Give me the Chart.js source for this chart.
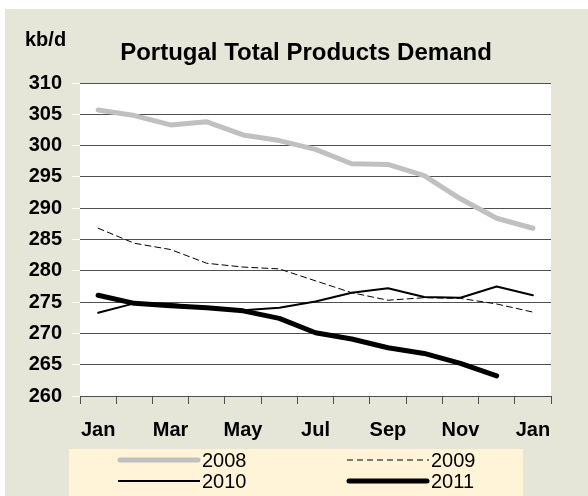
<!DOCTYPE html>
<html>
<head>
<meta charset="utf-8">
<script src="https://cdn.jsdelivr.net/npm/chart.js@4.4.1/dist/chart.umd.min.js"></script>
<style>
  html, body { margin: 0; padding: 0; background: #fff; }
  #wrap { position: absolute; left: 5px; top: 9px; width: 583px; height: 487px; background: #e6e6d8; }
</style>
</head>
<body>
<div id="wrap"><canvas id="chart"></canvas></div>
<script>
// months, Jan to Jan of next year
const months = ['Jan', 'Feb', 'Mar', 'Apr', 'May', 'Jun', 'Jul', 'Aug', 'Sep', 'Oct', 'Nov', 'Dec', 'Jan'];

const y2008 = [305.7, 304.8, 303.3, 303.8, 301.7, 300.8, 299.4, 297.1, 297.0, 295.2, 291.5, 288.4, 286.8];
const y2009 = [286.8, 284.4, 283.4, 281.2, 280.6, 280.3, 278.4, 276.5, 275.3, 275.7, 275.6, 274.7, 273.4];
const y2010 = [273.3, 274.8, 274.7, 274.1, 273.7, 274.1, 275.1, 276.5, 277.2, 275.8, 275.7, 277.5, 276.1];
const y2011 = [276.1, 274.8, 274.4, 274.1, 273.6, 272.4, 270.1, 269.1, 267.7, 266.8, 265.2, 263.2, null];

const titleText = 'Portugal Total Products Demand';
const unitText = 'kb/d';

const font = 'Liberation Sans, Arial, sans-serif';

const plotBg = {
  id: 'plotBg',
  beforeDraw(chart) {
    const a = chart.chartArea;
    const ctx = chart.ctx;
    ctx.save();
    ctx.fillStyle = '#ffffff';
    ctx.fillRect(a.left, a.top, a.right - a.left, a.bottom - a.top);
    ctx.restore();
  }
};

const texts = {
  id: 'texts',
  afterDraw(chart) {
    const ctx = chart.ctx;
    ctx.save();
    ctx.fillStyle = '#000';
    ctx.textBaseline = 'middle';
    ctx.font = 'bold 24px ' + font;
    ctx.textAlign = 'center';
    ctx.fillText(titleText, 301, 44);
    ctx.font = 'bold 20px ' + font;
    ctx.textAlign = 'left';
    ctx.fillText(unitText, 20, 31);

    // legend box, 2 x 2
    ctx.fillStyle = '#fff4d8';
    ctx.fillRect(64, 440, 454, 47);
    const pos = [[113, 451], [342, 451], [113, 472], [342, 472]];
    chart.data.datasets.forEach((ds, i) => {
      const [x, y] = pos[i];
      ctx.beginPath();
      ctx.strokeStyle = ds.borderColor;
      ctx.lineWidth = ds.borderWidth;
      ctx.setLineDash(ds.borderDash || []);
      ctx.lineCap = ds.borderWidth > 2 ? 'round' : 'butt';
      ctx.moveTo(x + (ds.borderWidth > 2 ? 2 : 0), y);
      ctx.lineTo(x + 82 - (ds.borderWidth > 2 ? 2 : 0), y);
      ctx.stroke();
      ctx.setLineDash([]);
      ctx.fillStyle = '#000';
      ctx.font = '20px ' + font;
      ctx.fillText(ds.label, x + 84, y + 1);
    });
    ctx.restore();
  }
};

const ctx = document.getElementById('chart');
new Chart(ctx, {
  type: 'line',
  data: {
    labels: months,
    datasets: [
      { label: '2008', data: y2008, borderColor: '#c0c0c0', borderWidth: 5 },
      { label: '2009', data: y2009, borderColor: '#000000', borderWidth: 1, borderDash: [6, 4] },
      { label: '2010', data: y2010, borderColor: '#000000', borderWidth: 2 },
      { label: '2011', data: y2011, borderColor: '#000000', borderWidth: 5 }
    ]
  },
  options: {
    responsive: true,
    maintainAspectRatio: false,
    animation: false,
    elements: {
      point: { radius: 0, hoverRadius: 0 },
      line: { tension: 0, borderJoinStyle: 'round', borderCapStyle: 'round', fill: false }
    },
    layout: { padding: { top: 74, right: 37, bottom: 55, left: 0 } },
    plugins: {
      legend: { display: false },
      title: { display: false },
      tooltip: { enabled: false }
    },
    scales: {
      x: {
        offset: true,
        grid: { offset: true, drawOnChartArea: false, drawTicks: true, tickLength: 8, color: '#505050' },
        border: { display: true, color: '#505050', width: 1 },
        ticks: {
          autoSkip: false,
          maxRotation: 0,
          padding: 14,
          color: '#000',
          font: { family: font, size: 20, weight: 'bold' },
          callback: function (v, i) { return i % 2 === 0 ? months[i] : ''; }
        },
        afterFit(scale) { scale.height = 45; }
      },
      y: {
        min: 260,
        max: 310,
        grid: { color: '#505050', tickColor: '#ffffff', tickLength: 8, lineWidth: 1 },
        border: { display: false },
        ticks: {
          stepSize: 5,
          padding: 10,
          color: '#000',
          font: { family: font, size: 20, weight: 'bold' }
        },
        afterFit(scale) { scale.width = 75; }
      }
    }
  },
  plugins: [plotBg, texts]
});
</script>
</body>
</html>
